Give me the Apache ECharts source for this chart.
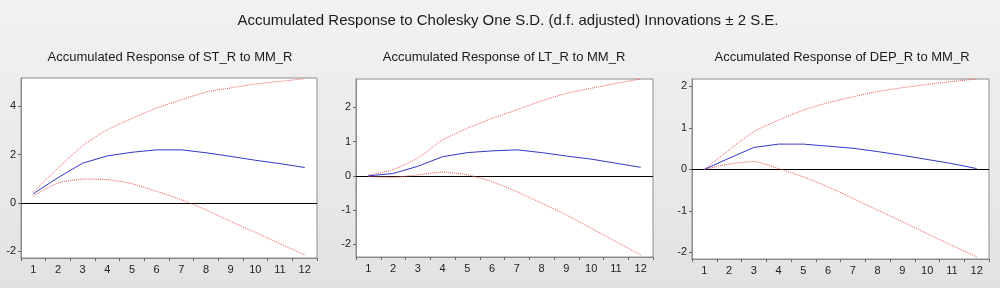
<!DOCTYPE html>
<html>
<head>
<meta charset="utf-8">
<script src="https://cdn.jsdelivr.net/npm/echarts@6/dist/echarts.min.js"></script>
<style>
html,body{margin:0;padding:0;}
body{width:1000px;height:288px;background:linear-gradient(to bottom,#f2f2f2 0%,#e9e9e9 60%,#e2e2e2 100%);}
#c{width:1000px;height:288px;}
</style>
</head>
<body>
<div id="c"></div>
<script>
const categories = ['1','2','3','4','5','6','7','8','9','10','11','12'];
const mainTitle = 'Accumulated Response to Cholesky One S.D. (d.f. adjusted) Innovations \u00b1 2 S.E.';
const panelTitles = ['Accumulated Response of ST_R to MM_R','Accumulated Response of LT_R to MM_R','Accumulated Response of DEP_R to MM_R'];

const stResp  = [0.39, 1.05, 1.65, 1.95, 2.10, 2.20, 2.20, 2.08, 1.93, 1.77, 1.63, 1.47];
const stUpper = [0.46, 1.45, 2.37, 3.03, 3.50, 3.93, 4.27, 4.59, 4.76, 4.92, 5.03, 5.14];
const stLower = [0.30, 0.83, 0.99, 0.97, 0.80, 0.48, 0.14, -0.28, -0.76, -1.21, -1.68, -2.14];

const ltResp  = [0.00, 0.07, 0.28, 0.56, 0.68, 0.73, 0.76, 0.68, 0.58, 0.49, 0.37, 0.25];
const ltUpper = [0.02, 0.18, 0.52, 1.05, 1.39, 1.68, 1.93, 2.19, 2.41, 2.56, 2.70, 2.83];
const ltLower = [-0.02, -0.04, 0.03, 0.11, 0.03, -0.17, -0.46, -0.80, -1.14, -1.53, -1.92, -2.31];

const depResp  = [0.00, 0.27, 0.53, 0.61, 0.61, 0.56, 0.51, 0.43, 0.34, 0.24, 0.14, 0.02];
const depUpper = [0.00, 0.47, 0.91, 1.19, 1.43, 1.61, 1.75, 1.88, 1.97, 2.05, 2.12, 2.18];
const depLower = [0.00, 0.13, 0.19, 0.02, -0.18, -0.42, -0.70, -0.98, -1.26, -1.55, -1.83, -2.11];

const panels = [
  {resp: stResp, up: stUpper, lo: stLower, min: -2.27, max: 5.17},
  {resp: ltResp, up: ltUpper, lo: ltLower, min: -2.37, max: 2.83},
  {resp: depResp, up: depUpper, lo: depLower, min: -2.16, max: 2.18}
];
const grids = [
  {left: 21, top: 78, width: 296, height: 180},
  {left: 356, top: 79, width: 297, height: 178},
  {left: 692, top: 79, width: 297, height: 180}
];
const titleX = [165, 499, 837];

const FONT = 'Liberation Sans, Arial, sans-serif';
const chart = echarts.init(document.getElementById('c'), null, {renderer: 'canvas'});

const option = {
  backgroundColor: 'transparent',
  animation: false,
  title: [{
    text: mainTitle, left: 503, top: 8, textAlign: 'center',
    textStyle: {fontFamily: FONT, fontSize: 15, fontWeight: 'normal', color: '#1a1a1a'}
  }].concat(panelTitles.map((t, i) => ({
    text: t, left: titleX[i], top: 46, textAlign: 'center',
    textStyle: {fontFamily: FONT, fontSize: 13, fontWeight: 'normal', color: '#1a1a1a'}
  }))),
  grid: grids.map(g => Object.assign({show: true, backgroundColor: '#ffffff', borderColor: '#8c8c8c', borderWidth: 1}, g)),
  xAxis: panels.map((p, i) => ({
    type: 'category', gridIndex: i, data: categories, boundaryGap: true,
    axisLine: {onZero: false, lineStyle: {color: '#8c8c8c'}},
    axisTick: {show: true, length: 3, inside: false, lineStyle: {color: '#666'}},
    axisLabel: {fontFamily: FONT, fontSize: 11, color: '#222', margin: 6, interval: 0},
    splitLine: {show: false}
  })),
  yAxis: panels.map((p, i) => ({
    type: 'value', gridIndex: i, min: p.min, max: p.max,
    splitNumber: i === 0 ? 4 : 5,
    axisLine: {show: true, lineStyle: {color: '#8c8c8c'}},
    axisTick: {show: true, length: 3, lineStyle: {color: '#666'}},
    axisLabel: {fontFamily: FONT, fontSize: 11, color: '#222', margin: 5, showMinLabel: false, showMaxLabel: false,
      formatter: v => (Math.abs(v - Math.round(v)) < 1e-6 ? String(Math.round(v)) : '')},
    splitLine: {show: false}
  })),
  series: []
};

panels.forEach((p, i) => {
  option.series.push({
    type: 'line', xAxisIndex: i, yAxisIndex: i, data: p.up, symbol: 'none', smooth: 0.2,
    lineStyle: {color: '#f05a5a', width: 1, type: 'dotted'}, silent: true, z: 3
  });
  option.series.push({
    type: 'line', xAxisIndex: i, yAxisIndex: i, data: p.lo, symbol: 'none', smooth: 0.2,
    lineStyle: {color: '#f05a5a', width: 1, type: 'dotted'}, silent: true, z: 3
  });
  option.series.push({
    type: 'line', xAxisIndex: i, yAxisIndex: i, data: p.resp, symbol: 'none', smooth: false,
    lineStyle: {color: '#3535c8', width: 1}, silent: true, z: 4,
    markLine: {silent: true, symbol: 'none', label: {show: false},
      lineStyle: {color: '#000', width: 1, type: 'solid'}, data: [{yAxis: 0}], z: 2}
  });
});

chart.setOption(option);
</script>
</body>
</html>
